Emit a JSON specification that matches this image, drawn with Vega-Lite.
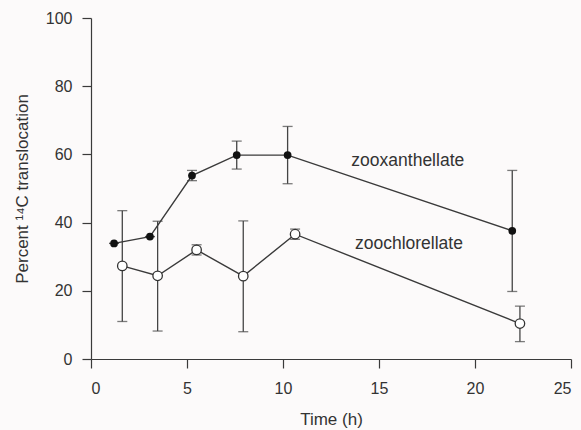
{
  "$schema": "https://vega.github.io/schema/vega-lite/v6.json",
  "autosize": {"type": "none"},
  "padding": {"left": 91, "top": 18, "right": 10, "bottom": 71},
  "width": 480,
  "height": 341,
  "background": "#fcfafa",
  "config": {
    "view": {"stroke": null},
    "font": "Liberation Sans",
    "axis": {
      "grid": false,
      "domainColor": "#3a3a3a",
      "tickColor": "#3a3a3a",
      "domainWidth": 1.2,
      "tickWidth": 1.2,
      "tickSize": 9,
      "labelColor": "#333",
      "titleColor": "#333",
      "labelFontSize": 16,
      "titleFontSize": 17,
      "titleFontWeight": "normal",
      "labelFont": "Liberation Sans",
      "titleFont": "Liberation Sans"
    }
  },
  "data": {
    "values": [
      {"series": "zooxanthellate", "time": 1.2, "value": 33.9, "lo": 33.9, "hi": 33.9},
      {"series": "zooxanthellate", "time": 3.07, "value": 35.9, "lo": 35.9, "hi": 35.9},
      {"series": "zooxanthellate", "time": 5.26, "value": 53.8, "lo": 52.3, "hi": 55.3},
      {"series": "zooxanthellate", "time": 7.59, "value": 59.8, "lo": 55.7, "hi": 63.9},
      {"series": "zooxanthellate", "time": 10.24, "value": 59.8, "lo": 51.4, "hi": 68.2},
      {"series": "zooxanthellate", "time": 21.94, "value": 37.6, "lo": 19.8, "hi": 55.3},
      {"series": "zoochlorellate", "time": 1.63, "value": 27.3, "lo": 11.0, "hi": 43.5},
      {"series": "zoochlorellate", "time": 3.47, "value": 24.4, "lo": 8.2, "hi": 40.4},
      {"series": "zoochlorellate", "time": 5.5, "value": 32.0, "lo": 30.5, "hi": 33.5},
      {"series": "zoochlorellate", "time": 7.93, "value": 24.3, "lo": 8.0, "hi": 40.5},
      {"series": "zoochlorellate", "time": 10.63, "value": 36.6, "lo": 35.1, "hi": 38.1},
      {"series": "zoochlorellate", "time": 22.34, "value": 10.4, "lo": 5.1, "hi": 15.5}
    ]
  },
  "encoding": {
    "x": {
      "field": "time", "type": "quantitative",
      "scale": {"domain": [0, 25], "nice": false},
      "axis": {"values": [0, 5, 10, 15, 20, 25], "title": "Time (h)", "labelPadding": 12, "titlePadding": 15}
    }
  },
  "layer": [
    {
      "mark": {"type": "rule", "color": "#444", "strokeWidth": 1.3},
      "encoding": {
        "y": {"field": "lo", "type": "quantitative"},
        "y2": {"field": "hi"}
      }
    },
    {
      "mark": {"type": "tick", "orient": "horizontal", "color": "#444", "size": 10, "thickness": 1.3},
      "encoding": {"y": {"field": "lo", "type": "quantitative"}}
    },
    {
      "mark": {"type": "tick", "orient": "horizontal", "color": "#444", "size": 10, "thickness": 1.3},
      "encoding": {"y": {"field": "hi", "type": "quantitative"}}
    },
    {
      "mark": {"type": "line", "color": "#3a3a3a", "strokeWidth": 1.4},
      "encoding": {
        "y": {
          "field": "value", "type": "quantitative",
          "scale": {"domain": [0, 100], "nice": false},
          "axis": {"values": [0, 20, 40, 60, 80, 100], "title": "Percent ¹⁴C translocation", "labelPadding": 10, "titlePadding": 14}
        },
        "detail": {"field": "series"}
      }
    },
    {
      "transform": [{"filter": "datum.series == 'zooxanthellate'"}],
      "mark": {"type": "point", "shape": "circle", "filled": true, "color": "#111", "size": 60, "opacity": 1},
      "encoding": {"y": {"field": "value", "type": "quantitative"}}
    },
    {
      "transform": [{"filter": "datum.series == 'zoochlorellate'"}],
      "mark": {"type": "point", "shape": "circle", "filled": true, "fill": "#ffffff", "stroke": "#333", "strokeWidth": 1.3, "size": 90, "opacity": 1},
      "encoding": {"y": {"field": "value", "type": "quantitative"}}
    },
    {
      "data": {"values": [
        {"label": "zooxanthellate", "lx": 16.5, "ly": 58},
        {"label": "zoochlorellate", "lx": 16.56, "ly": 33.7}
      ]},
      "mark": {"type": "text", "fontSize": 17.5, "color": "#333", "font": "Liberation Sans", "align": "center", "baseline": "middle"},
      "encoding": {
        "x": {"field": "lx", "type": "quantitative"},
        "y": {"field": "ly", "type": "quantitative"},
        "text": {"field": "label"}
      }
    }
  ]
}
